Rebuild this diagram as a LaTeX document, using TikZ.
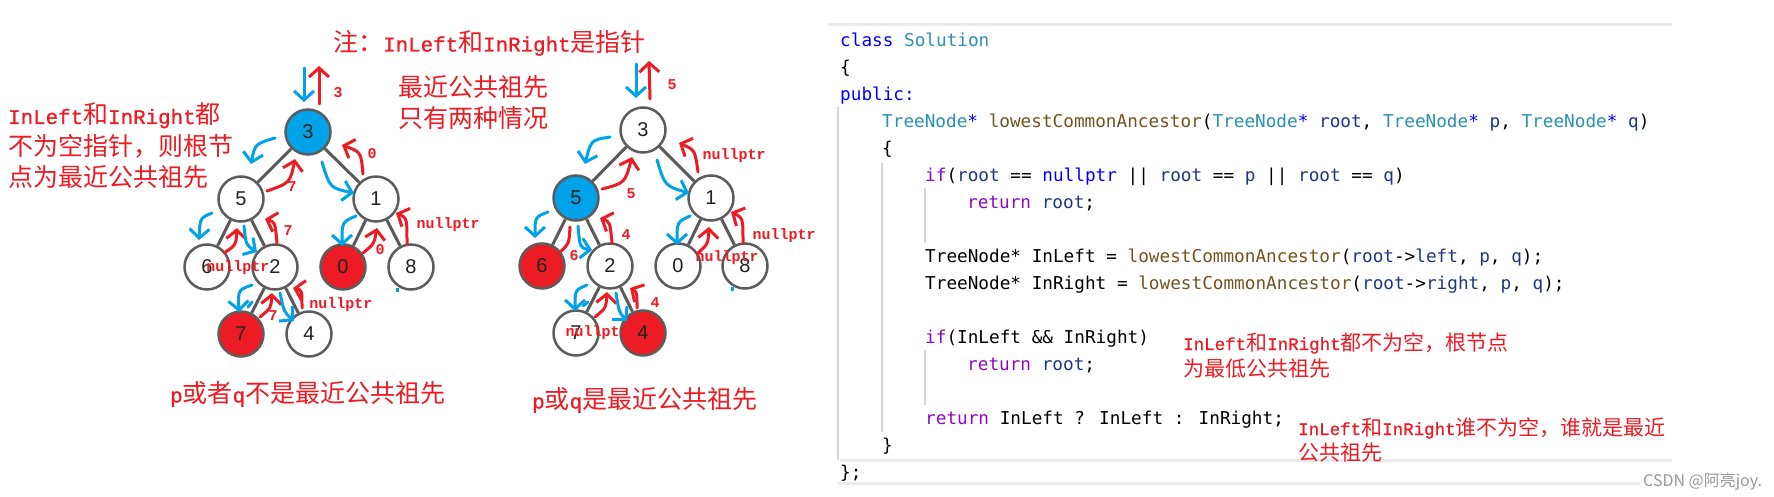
\documentclass[tikz,border=0pt]{standalone}
\usepackage{fontspec}
\usetikzlibrary{arrows.meta}
\setmainfont{Liberation Sans}
\newfontfamily\cjk{Noto Sans CJK SC}
\newfontfamily\rlat{Liberation Mono}[Scale=0.833,FakeBold=1]
\newfontfamily\lblfont{Liberation Mono}
\newfontfamily\codefont{DejaVu Sans Mono}
\definecolor{pred}{HTML}{ED1C24}
\definecolor{pblue}{HTML}{00A2E8}
\definecolor{nodegray}{HTML}{5C5C5C}
\definecolor{edgegray}{HTML}{5A5A5A}
\definecolor{numtxt}{HTML}{222222}
\definecolor{ckw}{HTML}{0000FF}
\definecolor{cty}{HTML}{2B91AF}
\definecolor{cfn}{HTML}{74531F}
\definecolor{cva}{HTML}{1F377F}
\definecolor{cpu}{HTML}{8F08C4}
\definecolor{guide}{HTML}{D6D6D6}
\definecolor{panel}{HTML}{EBEBEB}
\newcommand\lt[1]{{\rlat #1}}
\newcommand\ckw[1]{\textcolor{ckw}{#1}}
\newcommand\cty[1]{\textcolor{cty}{#1}}
\newcommand\cfn[1]{\textcolor{cfn}{#1}}
\newcommand\cva[1]{\textcolor{cva}{#1}}
\newcommand\cpu[1]{\textcolor{cpu}{#1}}
\tikzset{
  tn/.style={circle, draw=nodegray, line width=2.5pt, fill=white, minimum size=45pt,
    inner sep=0pt, font=\fontsize{20}{20}\selectfont, text=numtxt},
  tnb/.style={tn, fill=pblue},
  tnr/.style={tn, fill=pred},
  edge/.style={draw=edgegray, line width=3pt},
  rarr/.style={draw=pred, line width=3pt, line cap=round, -{Straight Barb[length=9pt,width=20pt]}},
  barr/.style={draw=pblue, line width=3pt, line cap=round, -{Straight Barb[length=9pt,width=20pt]}},
  rline/.style={draw=pred, line width=3pt, line cap=round},
  bline/.style={draw=pblue, line width=3pt, line cap=round},
  lbl/.style={text=pred, font=\lblfont\bfseries\fontsize{15}{15}\selectfont, inner sep=0pt},
  rtxt/.style={text=pred, anchor=base west, inner sep=0pt, font=\cjk\fontsize{25}{30}\selectfont},
  rtxts/.style={text=pred, anchor=base west, inner sep=0pt, font=\cjk\fontsize{21}{26}\selectfont},
  ctext/.style={anchor=base west, inner sep=0pt, font=\codefont\fontsize{17.7}{20}\selectfont},
  gline/.style={draw=guide, line width=1.5pt},
  pline/.style={draw=panel, line width=3pt},
}
\begin{document}
\begin{tikzpicture}[x=1pt,y=-1pt]
\useasboundingbox (0,0) rectangle (1774,497);
\fill[white] (0,0) rectangle (1774,497);

% ---------------- tree 1 ----------------
\node[tnb] (a3) at (308,132) {3};
\node[tn]  (a5) at (241,199) {5};
\node[tn]  (a1) at (376,199) {1};
\node[tn]  (a6) at (207,267) {6};
\node[tn]  (a2) at (275,267) {2};
\node[tnr] (a0) at (343,267) {0};
\node[tn]  (a8) at (411,267) {8};
\node[tnr] (a7) at (241,334) {7};
\node[tn]  (a4) at (309,334) {4};
\foreach \u/\v in {a3/a5,a3/a1,a5/a6,a5/a2,a1/a0,a1/a8,a2/a7,a2/a4}
  \draw[edge] (\u) -- (\v);

\draw[barr] (304,68) -- (304,102);
\draw[rarr] (319,104) -- (319,66);
\draw[barr] (275,138) .. controls (255,144) .. (251,164);
\draw[rarr] (267,191) .. controls (290,183) .. (295,159);
\draw[barr] (322,162) .. controls (330,188) .. (354,193);
\draw[rarr] (363,174) .. controls (361,152) .. (342,145);
\draw[barr] (212,213) .. controls (200,218) .. (199,240);
\draw[rarr] (224,253) .. controls (236,245) .. (237,228);
\draw[barr] (244,226) .. controls (246,245) .. (257,252);
\draw[rarr] (277,243) .. controls (275,222) .. (265,219);
\draw[barr] (356,216) .. controls (342,222) .. (342,246);
\draw[rarr] (363,253) .. controls (374,244) .. (377,228);
\draw[rarr] (407,244) .. controls (407,218) .. (396,213);
\draw[barr] (252,285) .. controls (238,290) .. (239,312);
\draw[bline] (248,307) -- (252,302);
\draw[rarr] (260,317) .. controls (271,308) .. (272,293);
\draw[barr] (280,293) .. controls (284,312) .. (294,321);
\draw[rarr] (302,308) .. controls (302,290) .. (293,288);
\fill[pblue] (396,288) rectangle (399,292);

\node[lbl] (la1) at (338,93) {3};
\node[lbl] (la2) at (292,187) {7};
\node[lbl] (la3) at (372,154) {0};
\node[lbl] (la4) at (288,231) {7};
\node[lbl] (la5) at (448,225) {nullptr};
\node[lbl] (la6) at (380,250) {0};
\node[lbl] (la7) at (238,268) {nullptr};
\node[lbl] (la8) at (273,316) {7};
\node[lbl] (la9) at (341,305) {nullptr};

% ---------------- tree 2 ----------------
\node[tn]  (b3) at (643,130) {3};
\node[tnb] (b5) at (576,198) {5};
\node[tn]  (b1) at (711,198) {1};
\node[tnr] (b6) at (542,266) {6};
\node[tn]  (b2) at (610,266) {2};
\node[tn]  (b0) at (678,266) {0};
\node[tn]  (b8) at (745,266) {8};
\node[tn]  (b7) at (576,333) {7};
\node[tnr] (b4) at (643,333) {4};
\foreach \u/\v in {b3/b5,b3/b1,b5/b6,b5/b2,b1/b0,b1/b8,b2/b7,b2/b4}
  \draw[edge] (\u) -- (\v);

\draw[barr] (636,64) -- (636,98);
\draw[rarr] (650,99) -- (649,61);
\draw[barr] (610,137) .. controls (591,140) .. (585,164);
\draw[rarr] (602,189) .. controls (625,183) .. (632,157);
\draw[barr] (657,160) .. controls (665,186) .. (689,193);
\draw[rarr] (698,172) .. controls (695,150) .. (679,143);
\draw[barr] (548,212) .. controls (535,217) .. (535,238);
\draw[rline] (570,227) .. controls (569,244) .. (560,252);
\draw[barr] (578,226) .. controls (580,248) .. (592,250);
\draw[rarr] (612,243) .. controls (610,222) .. (600,218);
\draw[barr] (690,216) .. controls (677,222) .. (677,245);
\draw[rarr] (698,253) .. controls (708,244) .. (709,227);
\draw[rarr] (743,243) .. controls (743,218) .. (731,212);
\draw[barr] (587,285) .. controls (575,290) .. (575,311);
\draw[bline] (583,306) -- (588,302);
\draw[rarr] (595,317) .. controls (606,308) .. (607,292);
\draw[barr] (616,293) .. controls (619,312) .. (627,321);
\draw[rarr] (637,308) .. controls (637,292) .. (630,288);
\fill[pblue] (731,287) rectangle (734,291);

\node[lbl] (lb1) at (672,85) {5};
\node[lbl] (lb2) at (631,194) {5};
\node[lbl] (lb3) at (734,156) {nullptr};
\node[lbl] (lb4) at (574,256) {6};
\node[lbl] (lb5) at (626,235) {4};
\node[lbl] (lb6) at (727,258) {nullptr};
\node[lbl] (lb7) at (784,236) {nullptr};
\node[lbl] (lb8) at (597,333) {nullptr};
\node[lbl] (lb9) at (655,303) {4};

% ---------------- red notes ----------------
\node[rtxt] (t1) at (333,51.5) {注：\lt{InLeft}和\lt{InRight}是指针};
\node[rtxt] (t2) at (398,97) {最近公共祖先};
\node[rtxt] (t3) at (398,128) {只有两种情况};
\node[rtxt] (t4) at (8,124) {\lt{InLeft}和\lt{InRight}都};
\node[rtxt] (t5) at (8,156) {不为空指针，则根节};
\node[rtxt] (t6) at (8,187) {点为最近公共祖先};
\node[rtxt] (t7) at (170,402.5) {\lt{p}或者\lt{q}不是最近公共祖先};
\node[rtxt] (t8) at (532,408.5) {\lt{p}或\lt{q}是最近公共祖先};

% ---------------- code panel ----------------
\draw[pline] (828,25) -- (1672,25);
\draw[pline] (840,460) -- (1672,460);
\draw[pline] (838,483) -- (1640,483);
\draw[gline] (838,107) -- (838,460);
\draw[gline] (882,163) -- (882,432);
\draw[gline] (925,188) -- (925,243);
\draw[gline] (925,350) -- (925,405);

\node[ctext] (c1)  at (840,47)    {\ckw{class} \cty{Solution}};
\node[ctext] (c2)  at (840,73.9)  {\{};
\node[ctext] (c3)  at (840,100.9) {\ckw{public:}};
\node[ctext] (c4)  at (882,127.8) {\cty{TreeNode}\ckw{*} \cfn{lowestCommonAncestor}(\cty{TreeNode}\ckw{*} \cva{root}, \cty{TreeNode}\ckw{*} \cva{p}, \cty{TreeNode}\ckw{*} \cva{q})};
\node[ctext] (c5)  at (882,154.8) {\{};
\node[ctext] (c6)  at (925,181.7) {\cpu{if}(\cva{root} == \ckw{nullptr} || \cva{root} == \cva{p} || \cva{root} == \cva{q})};
\node[ctext] (c7)  at (967,208.6) {\cpu{return} \cva{root};};
\node[ctext] (c9)  at (925,262.5) {TreeNode* InLeft = \cfn{lowestCommonAncestor}(\cva{root}->\cva{left}, \cva{p}, \cva{q});};
\node[ctext] (c10) at (925,289.5) {TreeNode* InRight = \cfn{lowestCommonAncestor}(\cva{root}->\cva{right}, \cva{p}, \cva{q});};
\node[ctext] (c12) at (925,343.3) {\cpu{if}(InLeft \&\& InRight)};
\node[ctext] (c13) at (967,370.3) {\cpu{return} \cva{root};};
\node[ctext] (c15) at (925,424.2) {\cpu{return} InLeft ? InLeft : InRight;};
\node[ctext] (c16) at (882,451.1) {\}};
\node[ctext] (c17) at (840,478)   {\};};

\node[rtxts] (n1) at (1183,350) {\lt{InLeft}和\lt{InRight}都不为空，根节点};
\node[rtxts] (n2) at (1183,376) {为最低公共祖先};
\node[rtxts] (n3) at (1298,435) {\lt{InLeft}和\lt{InRight}谁不为空，谁就是最近};
\node[rtxts] (n4) at (1298,460) {公共祖先};

\node[anchor=base west, inner sep=0pt, text=black!40, font=\cjk\fontsize{16}{18}\selectfont] (wm) at (1643,486) {CSDN @阿亮joy.};
\end{tikzpicture}
\end{document}
